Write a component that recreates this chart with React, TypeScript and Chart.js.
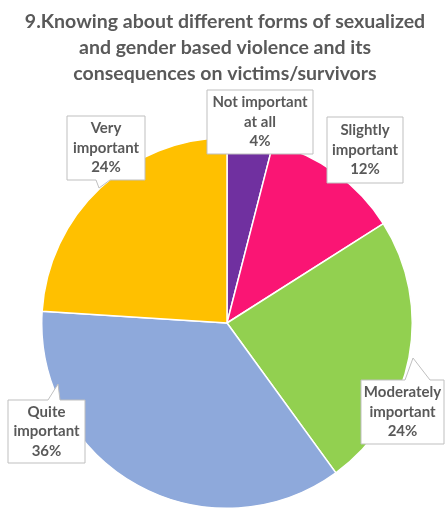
import React, { useEffect, useRef } from 'react';
import { Chart, registerables } from 'chart.js';

Chart.register(...registerables);

const titleLines = [
  '9.Knowing about different forms of sexualized',
  'and gender based violence and its',
  'consequences on victims/survivors',
];
const categories = [
  'Not important at all',
  'Slightly important',
  'Moderately important',
  'Quite important',
  'Very important',
];
const labelLines = [
  ['Not important', 'at all'],
  ['Slightly', 'important'],
  ['Moderately', 'important'],
  ['Quite', 'important'],
  ['Very', 'important'],
];
const values = [4, 12, 24, 36, 24];
const colors = ['#7030A0', '#FA1574', '#92D050', '#8EA9DB', '#FFC000'];

// label box layout (pixels) and optional callout pointer
const boxes = [
  { x: 207, y: 90, w: 106, h: 64, ptr: null },
  { x: 327, y: 117, w: 76, h: 66, ptr: null },
  { x: 361, y: 380, w: 83, h: 64, ptr: { a: 405, b: 430, side: 'top', tx: 413, ty: 358 } },
  { x: 8, y: 400, w: 77, h: 63, ptr: { a: 48, b: 60, side: 'top', tx: 58, ty: 384 } },
  { x: 67, y: 116, w: 78, h: 64, ptr: { a: 96, b: 110, side: 'bottom', tx: 99, ty: 188 } },
];

const TEXT = '#595959';
const FONT = 'Lato, "Open Sans", sans-serif';

const overlay = {
  id: 'overlay',
  afterDraw(chart: any) {
    const ctx = chart.ctx;
    ctx.save();
    // title
    ctx.fillStyle = TEXT;
    ctx.font = `bold 19.5px ${FONT}`;
    ctx.textAlign = 'center';
    ctx.textBaseline = 'middle';
    const titleY = [22, 48, 74];
    titleLines.forEach((t, i) => ctx.fillText(t, 225, titleY[i]));

    // labels
    const total = values.reduce((a, b) => a + b, 0);
    boxes.forEach((b, i) => {
      ctx.beginPath();
      ctx.moveTo(b.x, b.y);
      if (b.ptr && b.ptr.side === 'top') {
        ctx.lineTo(b.ptr.a, b.y);
        ctx.lineTo(b.ptr.tx, b.ptr.ty);
        ctx.lineTo(b.ptr.b, b.y);
      }
      ctx.lineTo(b.x + b.w, b.y);
      ctx.lineTo(b.x + b.w, b.y + b.h);
      if (b.ptr && b.ptr.side === 'bottom') {
        ctx.lineTo(b.ptr.b, b.y + b.h);
        ctx.lineTo(b.ptr.tx, b.ptr.ty);
        ctx.lineTo(b.ptr.a, b.y + b.h);
      }
      ctx.lineTo(b.x, b.y + b.h);
      ctx.closePath();
      ctx.fillStyle = '#FFFFFF';
      ctx.fill();
      ctx.strokeStyle = '#BFBFBF';
      ctx.lineWidth = 1;
      ctx.stroke();

      const lines = [...labelLines[i], Math.round((values[i] / total) * 100) + '%'];
      ctx.fillStyle = TEXT;
      ctx.font = `bold 15px ${FONT}`;
      ctx.textAlign = 'center';
      ctx.textBaseline = 'middle';
      const cx = b.x + b.w / 2;
      const cy = b.y + b.h / 2;
      lines.forEach((l, k) => ctx.fillText(l, cx, cy + (k - 1) * 19.5));
    });
    ctx.restore();
  },
};

export default function App() {
  const ref = useRef<HTMLCanvasElement | null>(null);
  useEffect(() => {
    document.body.style.margin = '0';
    const chart = new Chart(ref.current as HTMLCanvasElement, {
      type: 'pie',
      data: {
        labels: categories,
        datasets: [
          {
            data: values,
            backgroundColor: colors,
            borderColor: '#FFFFFF',
            borderWidth: 1.5,
          },
        ],
      },
      options: {
        animation: false,
        responsive: false,
        layout: { padding: { top: 137, bottom: 1, left: 41, right: 32 } },
        plugins: {
          legend: { display: false },
          title: { display: false },
          tooltip: { enabled: false },
        },
      },
      plugins: [overlay],
    });
    return () => chart.destroy();
  }, []);
  return (
    <div style={{ width: 445, height: 510, background: '#fff' }}>
      <canvas ref={ref} width={445} height={510} style={{ width: 445, height: 510, display: 'block' }} />
    </div>
  );
}
